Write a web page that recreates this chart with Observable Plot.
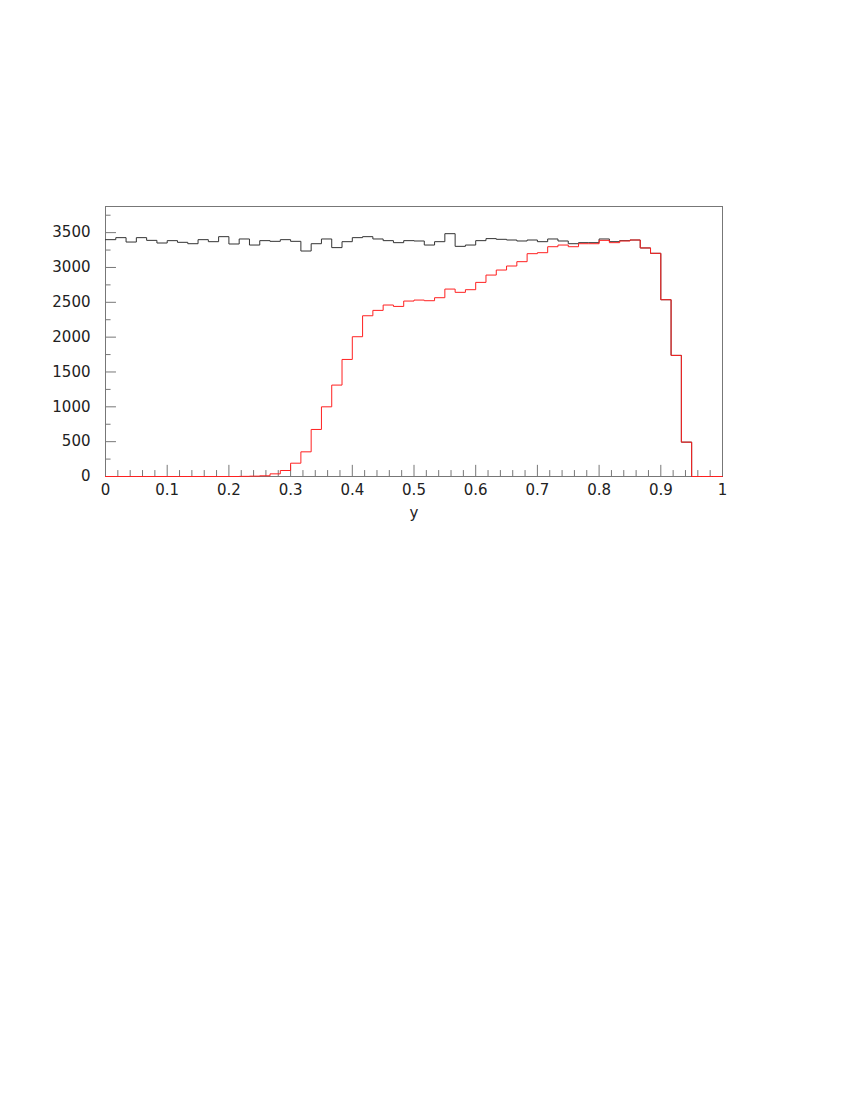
<!DOCTYPE html>
<html>
<head>
<meta charset="utf-8">
<script src="https://cdn.jsdelivr.net/npm/d3@7"></script>
<script src="https://cdn.jsdelivr.net/npm/@observablehq/plot@0.6"></script>
<style>
  body { margin: 0; background: #fff; }
  #chart svg { display: block; }
</style>
</head>
<body>
<div id="chart"></div>
<script>
// 60 bins from 0 to 1
const binEdges = d3.range(61).map(i => i / 60);
const blackCounts = [
  3399, 3428, 3365, 3428, 3389, 3351, 3385, 3361, 3341, 3399,
  3370, 3442, 3337, 3409, 3322, 3385, 3375, 3399, 3375, 3236,
  3341, 3409, 3285, 3370, 3428, 3442, 3409, 3385, 3356, 3385,
  3380, 3322, 3370, 3485, 3303, 3322, 3385, 3414, 3404, 3394,
  3380, 3394, 3370, 3409, 3380, 3341, 3356, 3356, 3409, 3370,
  3385, 3394, 3280, 3203, 2537, 1738, 493, 0, 0, 0
];
const redCounts = [
  0, 0, 0, 0, 0, 0, 0, 0, 0, 0,
  0, 0, 0, 2, 5, 10, 38, 86, 191, 354,
  675, 1000, 1312, 1680, 2006, 2307, 2384, 2461, 2441, 2518,
  2532, 2523, 2566, 2690, 2643, 2681, 2786, 2891, 2963, 3021,
  3083, 3198, 3212, 3298, 3322, 3298, 3341, 3341, 3389, 3356,
  3380, 3394, 3280, 3203, 2537, 1738, 493, 0, 0, 0
];
const yMajorTicks = [0, 500, 1000, 1500, 2000, 2500, 3000, 3500];
const yMinorTicks = [250, 750, 1250, 1750, 2250, 2750, 3250, 3750];
const xMajorTicks = [0, 0.1, 0.2, 0.3, 0.4, 0.5, 0.6, 0.7, 0.8, 0.9, 1];
const xTickLabels = ["0", "0.1", "0.2", "0.3", "0.4", "0.5", "0.6", "0.7", "0.8", "0.9", "1"];
const xMinorTicks = [
  0.02, 0.04, 0.06, 0.08, 0.12, 0.14, 0.16, 0.18, 0.22, 0.24, 0.26, 0.28,
  0.32, 0.34, 0.36, 0.38, 0.42, 0.44, 0.46, 0.48, 0.52, 0.54, 0.56, 0.58,
  0.62, 0.64, 0.66, 0.68, 0.72, 0.74, 0.76, 0.78, 0.82, 0.84, 0.86, 0.88,
  0.92, 0.94, 0.96, 0.98
];
const xLabel = "y";

function stepPoints(counts) {
  const pts = counts.map((v, i) => ({x: binEdges[i], v}));
  pts.push({x: binEdges[60], v: counts[counts.length - 1]});
  return pts;
}

const tickColor = "#777";
const chart = Plot.plot({
  width: 850,
  height: 560,
  marginLeft: 105,
  marginRight: 128,
  marginTop: 206,
  marginBottom: 84,
  x: {domain: [0, 1]},
  y: {domain: [0, 3875]},
  style: {fontFamily: "DejaVu Sans", fontSize: "15px", color: "#222", background: "#fff"},
  marks: [
    Plot.frame({stroke: tickColor}),
    Plot.ruleY(yMajorTicks, {x1: 0, x2: 0.0178, stroke: tickColor}),
    Plot.ruleY(yMinorTicks, {x1: 0, x2: 0.009, stroke: tickColor}),
    Plot.ruleX(xMajorTicks, {y1: 0, y2: 160, stroke: tickColor}),
    Plot.ruleX(xMinorTicks, {y1: 0, y2: 85, stroke: tickColor}),
    Plot.axisY({ticks: yMajorTicks, tickSize: 0, tickPadding: 15, tickFormat: d => String(d), label: null}),
    Plot.axisX({ticks: xMajorTicks, tickSize: 0, tickPadding: 8, tickFormat: (d, i) => xTickLabels[i], label: null}),
    Plot.text([xLabel], {x: () => 0.5, frameAnchor: "bottom", dy: 41, text: d => d, fontSize: 15}),
    Plot.line(stepPoints(blackCounts), {x: "x", y: "v", curve: "step-after", stroke: "#333", strokeWidth: 1}),
    Plot.line(stepPoints(redCounts), {x: "x", y: "v", curve: "step-after", stroke: "#ff2020", strokeWidth: 1})
  ]
});
document.getElementById("chart").appendChild(chart);
</script>
</body>
</html>
